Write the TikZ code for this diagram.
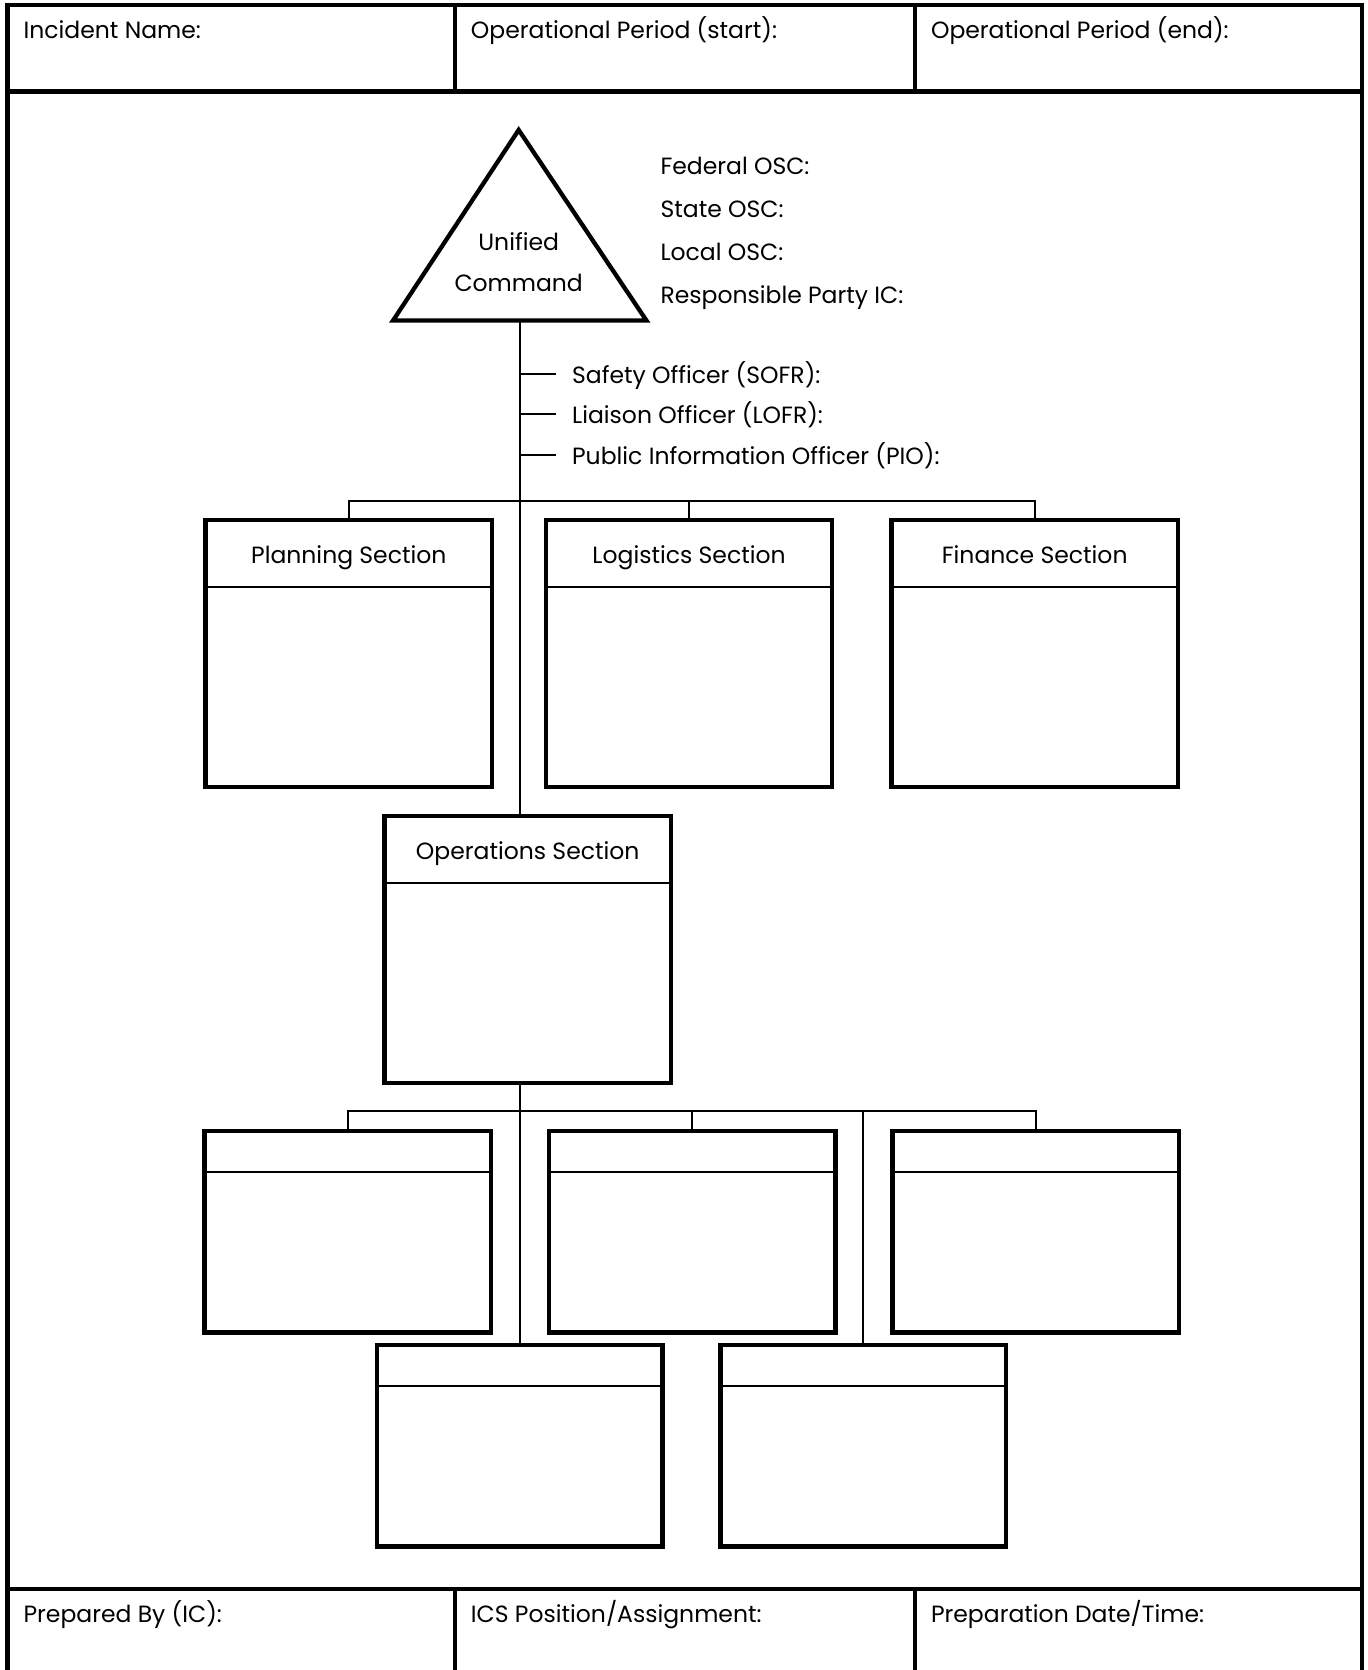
\documentclass[tikz,border=0pt]{standalone}
\usepackage{fontspec}
\setmainfont{Poppins}
\usetikzlibrary{calc}
\begin{document}
\begin{tikzpicture}[x=1.0654pt,y=-1.0654pt,
  every node/.style={font=\fontsize{23.5}{28}\selectfont, inner sep=0pt},
  frameline/.style={line width=4.3pt},
  cellline/.style={line width=4.3pt},
  thin rule/.style={line width=2pt},
  secbox/.style={draw, line width=4.3pt, rectangle, minimum width=269*1.0654pt},
  bigbox/.style={secbox, minimum height=251*1.0654pt},
  smallbox/.style={secbox, minimum height=189*1.0654pt},
  wire/.style={line width=2pt},
  label/.style={anchor=base west},
  title/.style={anchor=base}]
\useasboundingbox (0,0) rectangle (1284,1568);
% outer form frame and the header/footer rows
\draw[frameline] (7,5) rectangle (1279,1590);
\draw[cellline] (7,86) -- (1279,86);
\draw[cellline] (7,1492) -- (1279,1492);
\draw[cellline] (427,5) -- (427,86);
\draw[cellline] (859,5) -- (859,86);
\draw[cellline] (427,1492) -- (427,1590);
\draw[cellline] (859,1492) -- (859,1590);
\node[label] (incname) at (22,36) {Incident Name:};
\node[label] (opstart) at (442,36) {Operational Period (start):};
\node[label] (opend) at (874,36) {Operational Period (end):};
\node[label] (prepby) at (22,1523) {Prepared By (IC):};
\node[label] (icspos) at (442,1523) {ICS Position/Assignment:};
\node[label] (prepdate) at (874,1523) {Preparation Date/Time:};

% unified command triangle
\draw[line width=4.3pt, line join=miter] (487,122) -- (607,301) -- (369,301) -- cycle;
\coordinate (ucbase) at (488,301);
\node[align=center, font=\fontsize{23.5}{40.5}\selectfont] (uc) at (487,246) {Unified\\Command};
\node[label] (fed) at (620,164) {Federal OSC:};
\node[label] (state) at (620,204) {State OSC:};
\node[label] (local) at (620,245) {Local OSC:};
\node[label] (rpic) at (620,285) {Responsible Party IC:};

% command staff
\node[label] (sofr) at (537,360) {Safety Officer (SOFR):};
\node[label] (lofr) at (537,398) {Liaison Officer (LOFR):};
\node[label] (pio) at (537,436) {Public Information Officer (PIO):};
\draw[wire] (488,351) -- (522,351);
\draw[wire] (488,389) -- (522,389);
\draw[wire] (488,427) -- (522,427);

% general staff sections
\node[bigbox] (plan) at (327.5,613.5) {};
\node[bigbox] (logi) at (647,613.5) {};
\node[bigbox] (fin) at (971.5,613.5) {};
\node[bigbox] (ops) at (495.5,891.5) {};
\foreach \b/\t in {plan/Planning Section, logi/Logistics Section, fin/Finance Section, ops/Operations Section}{
  \draw[thin rule] ($(\b.north west)+(0,65)$) -- ($(\b.north east)+(0,65)$);
  \node[title] at ($(\b.north)+(0,43)$) {\t};
}

% branch boxes
\node[smallbox] (bra) at (326.5,1156.5) {};
\node[smallbox] (brb) at (650,1156.5) {};
\node[smallbox] (brc) at (972.5,1156.5) {};
\node[smallbox, minimum width=268*1.0654pt] (brd) at (488,1357.5) {};
\node[smallbox, minimum width=268*1.0654pt] (bre) at (810.5,1357.5) {};
\foreach \b in {bra,brb,brc,brd,bre}{
  \draw[thin rule] ($(\b.north west)+(0,40)$) -- ($(\b.north east)+(0,40)$);
}

% connectors
\coordinate (busa) at (0,470);
\coordinate (busb) at (0,1043);
\draw[wire] (ucbase) -- (ucbase |- ops.north);
\draw[wire] (plan.north) -- (plan.north |- busa) -- (fin.north |- busa) -- (fin.north);
\draw[wire] (logi.north) -- (logi.north |- busa);
\draw[wire] (ucbase |- ops.south) -- (brd.north);
\draw[wire] (bra.north) -- (bra.north |- busb) -- (brc.north |- busb) -- (brc.north);
\draw[wire] (brb.north) -- (brb.north |- busb);
\draw[wire] (bre.north) -- (bre.north |- busb);
\end{tikzpicture}
\end{document}
